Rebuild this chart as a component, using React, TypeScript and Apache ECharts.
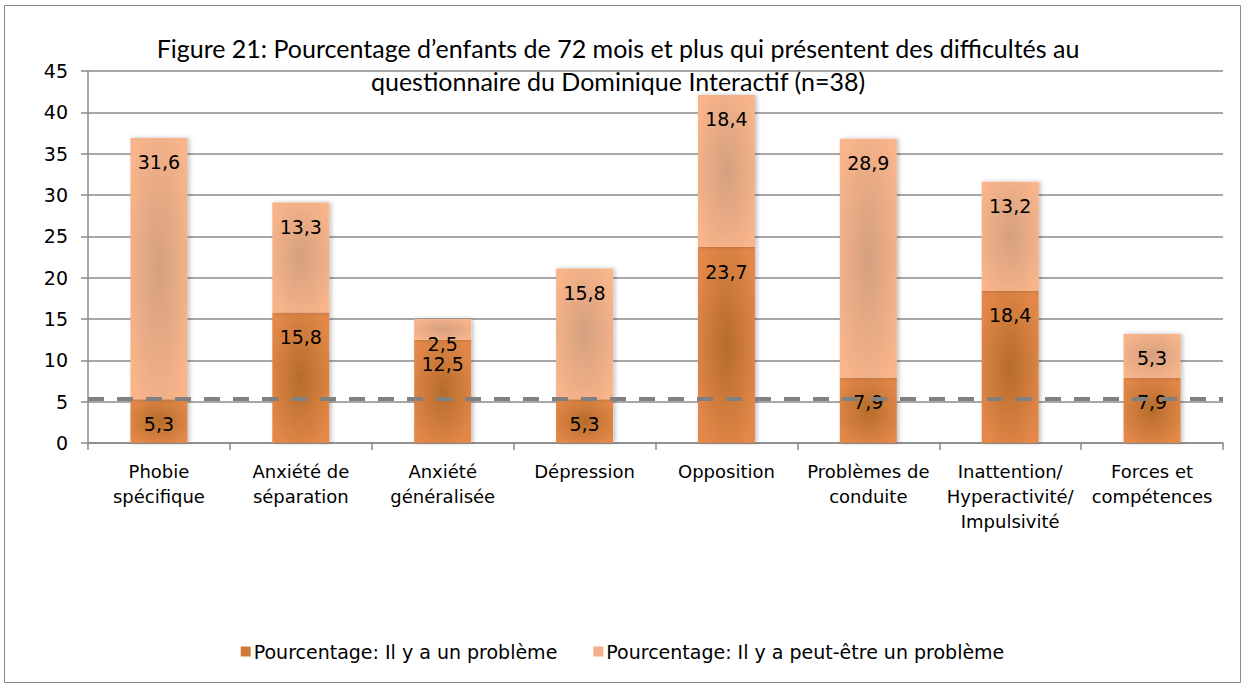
import React, { useEffect, useRef } from "react";
import * as echarts from "echarts";

const categories = [
  "Phobie\nspécifique",
  "Anxiété de\nséparation",
  "Anxiété\ngénéralisée",
  "Dépression",
  "Opposition",
  "Problèmes de\nconduite",
  "Inattention/\nHyperactivité/\nImpulsivité",
  "Forces et\ncompétences",
];
const problemValues = [5.3, 15.8, 12.5, 5.3, 23.7, 7.9, 18.4, 7.9];
const maybeProblemValues = [31.6, 13.3, 2.5, 15.8, 18.4, 28.9, 13.2, 5.3];
const referenceLine = 5.3;
const seriesNames = ["Pourcentage: Il y a un problème", "Pourcentage: Il y a peut-être un problème"];
const titleText = "Figure 21: Pourcentage d’enfants de 72 mois et plus qui présentent des difficultés au\nquestionnaire du Dominique Interactif (n=38)";

const FONT = "DejaVu Sans";

export default function App() {
  const ref = useRef<HTMLDivElement>(null);
  useEffect(() => {
    document.body.style.margin = "0";
    const chart = echarts.init(ref.current!, null, { renderer: "svg" });
    const fmt = (p: any) => Number(p.value).toFixed(1).replace(".", ",");
    const label = {
      show: true,
      position: "insideTop",
      distance: 15,
      formatter: fmt,
      color: "#000",
      fontFamily: FONT,
      fontSize: 19,
    };
    const darkColor = {
      type: "radial",
      x: 0.5,
      y: 0.5,
      r: 0.6,
      colorStops: [
        { offset: 0, color: "#B56C2A" },
        { offset: 1, color: "#E3884A" },
      ],
    };
    const lightColor = {
      type: "radial",
      x: 0.5,
      y: 0.5,
      r: 0.6,
      colorStops: [
        { offset: 0, color: "#D4A07F" },
        { offset: 1, color: "#F8B48A" },
      ],
    };
    const barShadow = {
      shadowBlur: 4,
      shadowColor: "rgba(0,0,0,0.25)",
      shadowOffsetX: 2,
      shadowOffsetY: 0,
    };
    chart.setOption({
      animation: false,
      title: {
        text: titleText,
        left: 613,
        top: 26,
        textAlign: "center",
        textStyle: {
          fontFamily: "Lato",
          fontSize: 25,
          fontWeight: "normal",
          color: "#000",
          lineHeight: 33,
        },
      },
      graphic: [
        {
          type: "rect",
          shape: { x: 4.5, y: 5.5, width: 1236, height: 677 },
          style: { fill: "none", stroke: "#8a8a8a", lineWidth: 1 },
          z: -1,
        },
      ],
      legend: {
        bottom: 20,
        left: "center",
        itemWidth: 10,
        itemHeight: 10,
        itemGap: 36,
        icon: "rect",
        textStyle: { fontFamily: FONT, fontSize: 19, color: "#000", padding: [0, 0, 0, -2] },
        data: [
          { name: seriesNames[0], itemStyle: { color: "#D07A38" } },
          { name: seriesNames[1], itemStyle: { color: "#F4AE88" } },
        ],
      },
      grid: { left: 88, right: 22, top: 71, bottom: 243 },
      xAxis: {
        type: "category",
        data: categories,
        axisLine: { lineStyle: { color: "#8a8a8a", width: 1.5 } },
        axisTick: { show: true, length: 7, lineStyle: { color: "#8a8a8a", width: 1.5 } },
        axisLabel: {
          fontFamily: FONT,
          fontSize: 18,
          color: "#000",
          lineHeight: 25,
          margin: 16,
          interval: 0,
        },
      },
      yAxis: {
        type: "value",
        min: 0,
        max: 45,
        interval: 5,
        axisLine: { show: true, lineStyle: { color: "#8a8a8a", width: 1.5 } },
        axisTick: { show: true, length: 7, lineStyle: { color: "#8a8a8a", width: 1.5 } },
        splitLine: { lineStyle: { color: "#8a8a8a", width: 1.5 } },
        axisLabel: { fontFamily: FONT, fontSize: 19, color: "#000", margin: 20 },
      },
      series: [
        {
          name: seriesNames[0],
          type: "bar",
          stack: "total",
          barWidth: 57,
          data: problemValues,
          itemStyle: { color: darkColor, ...barShadow },
          label,
          z: 2,
        },
        {
          name: seriesNames[1],
          type: "bar",
          stack: "total",
          barWidth: 57,
          data: maybeProblemValues,
          itemStyle: { color: lightColor, ...barShadow },
          label,
          z: 2,
        },
        {
          name: "Seuil",
          type: "line",
          data: [],
          z: 5,
          markLine: {
            silent: true,
            symbol: "none",
            z: 5,
            label: { show: false },
            lineStyle: {
              color: "#808080",
              width: 4,
              type: [16, 13],
            },
            data: [{ yAxis: referenceLine }],
          },
        },
      ],
    } as any);
    return () => chart.dispose();
  }, []);
  return <div ref={ref} style={{ position: "absolute", left: 0, top: 0, width: 1245, height: 686 }} />;
}
